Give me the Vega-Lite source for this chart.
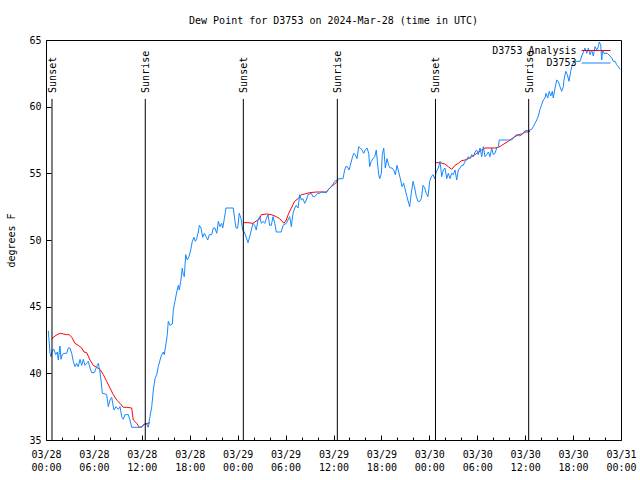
{
"$schema": "https://vega.github.io/schema/vega-lite/v6.json",
"width": 575, "height": 400,
"autosize": "none",
"padding": {"left": 46, "top": 40, "right": 19, "bottom": 40},
"background": "white",
"title": {"text": "Dew Point for D3753 on 2024-Mar-28 (time in UTC)", "font": "DejaVu Sans Mono", "fontSize": 10, "fontWeight": "normal", "color": "black", "offset": 9, "anchor": "middle"},
"config": {
  "view": {"stroke": "black", "strokeWidth": 1},
  "axis": {"domain": false, "grid": false, "labelFont": "DejaVu Sans Mono", "labelFontSize": 10, "labelColor": "black", "tickColor": "black", "tickWidth": 1, "titleFont": "DejaVu Sans Mono", "titleFontSize": 10, "titleFontWeight": "normal", "titleColor": "black"}
},
"resolve": {"axis": {"x": "independent", "y": "independent"}},
"layer": [
{
  "data": {"values": [
{"h":0.71,"dp":42.6,"seg":1},{"h":1.13,"dp":42.8,"seg":1},{"h":1.54,"dp":42.95,"seg":1},{"h":1.84,"dp":43.0,"seg":1},{"h":2.17,"dp":42.95,"seg":1},{"h":2.59,"dp":42.9,"seg":1},{"h":2.92,"dp":42.9,"seg":1},{"h":3.22,"dp":42.7,"seg":1},{"h":3.63,"dp":42.25,"seg":1},{"h":4.04,"dp":42.1,"seg":1},{"h":4.47,"dp":41.9,"seg":1},{"h":4.76,"dp":41.6,"seg":1},{"h":5.1,"dp":41.55,"seg":1},{"h":5.51,"dp":41.0,"seg":1},{"h":5.92,"dp":40.6,"seg":1},{"h":6.35,"dp":40.45,"seg":1},{"h":6.76,"dp":40.3,"seg":1},{"h":7.18,"dp":39.9,"seg":1},{"h":7.6,"dp":39.4,"seg":1},{"h":8.01,"dp":38.9,"seg":1},{"h":8.43,"dp":38.4,"seg":1},{"h":8.85,"dp":38.0,"seg":1},{"h":9.27,"dp":37.75,"seg":1},{"h":9.68,"dp":37.45,"seg":1},{"h":10.11,"dp":37.45,"seg":1},{"h":10.73,"dp":37.4,"seg":1},{"h":10.93,"dp":36.5,"seg":1},{"h":11.36,"dp":36.25,"seg":1},{"h":11.68,"dp":35.95,"seg":1},{"h":11.98,"dp":36.0,"seg":1},{"h":12.4,"dp":36.2,"seg":1},{"h":13.02,"dp":36.3,"seg":1},
{"h":24.71,"dp":51.3,"seg":2},{"h":25.29,"dp":51.3,"seg":2},{"h":25.92,"dp":51.25,"seg":2},{"h":26.76,"dp":51.6,"seg":2},{"h":26.96,"dp":51.9,"seg":2},{"h":27.59,"dp":51.95,"seg":2},{"h":28.21,"dp":51.9,"seg":2},{"h":28.84,"dp":51.75,"seg":2},{"h":29.26,"dp":51.6,"seg":2},{"h":29.8,"dp":51.25,"seg":2},{"h":30.09,"dp":51.5,"seg":2},{"h":30.39,"dp":52.0,"seg":2},{"h":30.72,"dp":52.4,"seg":2},{"h":31.14,"dp":52.9,"seg":2},{"h":31.56,"dp":53.1,"seg":2},{"h":31.97,"dp":53.4,"seg":2},{"h":32.39,"dp":53.45,"seg":2},{"h":33.02,"dp":53.55,"seg":2},{"h":33.85,"dp":53.6,"seg":2},{"h":35.1,"dp":53.6,"seg":2},{"h":35.53,"dp":53.9,"seg":2},{"h":35.94,"dp":54.1,"seg":2},{"h":36.35,"dp":54.3,"seg":2},{"h":36.56,"dp":54.5,"seg":2},
{"h":48.75,"dp":55.8,"seg":3},{"h":49.34,"dp":55.8,"seg":3},{"h":49.96,"dp":55.7,"seg":3},{"h":50.38,"dp":55.5,"seg":3},{"h":50.8,"dp":55.3,"seg":3},{"h":51.21,"dp":55.6,"seg":3},{"h":51.63,"dp":55.75,"seg":3},{"h":52.05,"dp":55.95,"seg":3},{"h":52.47,"dp":56.0,"seg":3},{"h":52.88,"dp":56.1,"seg":3},{"h":53.31,"dp":56.25,"seg":3},{"h":53.93,"dp":56.5,"seg":3},{"h":54.56,"dp":56.75,"seg":3},{"h":54.97,"dp":56.9,"seg":3},{"h":56.22,"dp":56.9,"seg":3},{"h":56.64,"dp":56.95,"seg":3},{"h":57.06,"dp":57.1,"seg":3},{"h":57.48,"dp":57.25,"seg":3},{"h":57.89,"dp":57.4,"seg":3},{"h":58.31,"dp":57.6,"seg":3},{"h":58.73,"dp":57.75,"seg":3},{"h":59.14,"dp":57.9,"seg":3},{"h":59.56,"dp":57.95,"seg":3},{"h":59.98,"dp":58.1,"seg":3},{"h":60.39,"dp":58.1,"seg":3},{"h":60.6,"dp":58.15,"seg":3}
  ]},
  "mark": {"type": "line", "strokeWidth": 1, "clip": true},
  "encoding": {
    "x": {"field": "h", "type": "quantitative", "scale": {"domain": [0, 72], "nice": false, "zero": false},
      "axis": {"orient": "bottom", "title": null, "values": [0,2,4,6,8,10,12,14,16,18,20,22,24,26,28,30,32,34,36,38,40,42,44,46,48,50,52,54,56,58,60,62,64,66,68,70,72],
        "tickSize": {"condition": {"test": "datum.value % 6 === 0", "value": -5}, "value": -3},
        "labelExpr": "datum.value % 6 === 0 ? ['03/' + (28 + floor(datum.value / 24)), (datum.value % 24 < 10 ? '0' : '') + (datum.value % 24) + ':00'] : ''",
        "labelPadding": 14, "labelLineHeight": 13, "labelFlush": false, "labelOverlap": false, "labelBaseline": "top"}},
    "y": {"field": "dp", "type": "quantitative", "scale": {"domain": [35, 65], "nice": false, "zero": false},
      "axis": {"orient": "left", "title": "degrees F", "values": [35,40,45,50,55,60,65], "tickSize": -5, "labelPadding": 10, "titlePadding": 12}},
    "color": {"datum": "D3753 Analysis", "type": "nominal", "scale": {"domain": ["D3753 Analysis", "D3753"], "range": ["#ff0000", "#1588ff"]},
      "legend": {"orient": "none", "legendX": 544.6, "legendY": 5, "title": null, "symbolType": "M-3,0H3", "symbolSize": 93, "symbolStrokeWidth": 1, "symbolFillColor": "transparent", "labelAlign": "right", "labelOffset": -25, "labelFont": "DejaVu Sans Mono", "labelFontSize": 10, "labelColor": "black", "padding": 0, "rowPadding": 1.5, "labelLimit": 300}},
    "detail": {"field": "seg", "type": "nominal"}
  }
},
{
  "data": {"values": [
{"h":0.29,"dp":43.2},{"h":0.38,"dp":42.5},{"h":0.5,"dp":41.5},{"h":0.63,"dp":41.25},{"h":0.79,"dp":41.75},{"h":1.0,"dp":41.8},{"h":1.21,"dp":41.4},{"h":1.42,"dp":41.6},{"h":1.54,"dp":41.0},{"h":1.75,"dp":42.05},{"h":1.88,"dp":41.05},{"h":2.04,"dp":41.4},{"h":2.25,"dp":41.5},{"h":2.59,"dp":41.5},{"h":2.79,"dp":41.9},{"h":3.01,"dp":41.9},{"h":3.22,"dp":41.5},{"h":3.42,"dp":40.9},{"h":3.63,"dp":40.5},{"h":3.84,"dp":40.75},{"h":4.04,"dp":40.5},{"h":4.26,"dp":41.05},{"h":4.47,"dp":40.6},{"h":4.67,"dp":41.05},{"h":4.88,"dp":40.6},{"h":5.1,"dp":40.75},{"h":5.3,"dp":40.9},{"h":5.51,"dp":40.4},{"h":5.72,"dp":40.05},{"h":6.05,"dp":40.05},{"h":6.35,"dp":40.5},{"h":6.55,"dp":40.75},{"h":6.76,"dp":40.1},{"h":6.89,"dp":39.5},{"h":7.05,"dp":38.5},{"h":7.39,"dp":38.45},{"h":7.6,"dp":38.4},{"h":7.8,"dp":37.5},{"h":8.01,"dp":38.0},{"h":8.23,"dp":38.2},{"h":8.35,"dp":37.75},{"h":8.51,"dp":37.25},{"h":8.77,"dp":37.5},{"h":9.05,"dp":37.3},{"h":9.27,"dp":37.5},{"h":9.48,"dp":36.75},{"h":9.68,"dp":36.55},{"h":9.89,"dp":36.9},{"h":10.31,"dp":36.9},{"h":10.52,"dp":36.5},{"h":10.73,"dp":35.95},{"h":11.98,"dp":35.95},{"h":12.27,"dp":36.2},{"h":12.61,"dp":36.2},{"h":12.81,"dp":35.95},{"h":13.02,"dp":36.75},{"h":13.24,"dp":37.5},{"h":13.44,"dp":38.75},{"h":13.65,"dp":39.6},{"h":13.86,"dp":39.9},{"h":14.06,"dp":40.5},{"h":14.28,"dp":41.0},{"h":14.49,"dp":41.4},{"h":14.69,"dp":41.6},{"h":14.81,"dp":41.4},{"h":15.03,"dp":42.25},{"h":15.19,"dp":42.9},{"h":15.31,"dp":43.9},{"h":15.53,"dp":43.6},{"h":15.82,"dp":43.7},{"h":15.94,"dp":44.75},{"h":16.15,"dp":45.4},{"h":16.37,"dp":46.1},{"h":16.57,"dp":46.6},{"h":16.69,"dp":46.25},{"h":16.87,"dp":46.9},{"h":17.07,"dp":47.9},{"h":17.19,"dp":47.4},{"h":17.32,"dp":47.25},{"h":17.49,"dp":48.9},{"h":17.69,"dp":48.5},{"h":17.91,"dp":48.75},{"h":18.12,"dp":49.25},{"h":18.32,"dp":49.9},{"h":18.53,"dp":50.2},{"h":18.7,"dp":49.9},{"h":18.87,"dp":50.1},{"h":19.07,"dp":50.6},{"h":19.2,"dp":51.1},{"h":19.41,"dp":50.9},{"h":19.62,"dp":50.2},{"h":19.82,"dp":50.5},{"h":20.04,"dp":50.25},{"h":20.25,"dp":50.0},{"h":20.45,"dp":50.4},{"h":20.75,"dp":50.4},{"h":20.95,"dp":50.9},{"h":21.16,"dp":50.9},{"h":21.38,"dp":50.5},{"h":21.58,"dp":51.4},{"h":21.79,"dp":51.0},{"h":22.0,"dp":51.25},{"h":22.13,"dp":50.9},{"h":22.33,"dp":51.6},{"h":22.54,"dp":52.4},{"h":23.45,"dp":52.4},{"h":23.67,"dp":51.4},{"h":23.79,"dp":50.9},{"h":24.0,"dp":50.9},{"h":24.2,"dp":52.0},{"h":24.42,"dp":51.6},{"h":24.63,"dp":50.75},{"h":24.83,"dp":50.6},{"h":25.04,"dp":50.25},{"h":25.29,"dp":49.8},{"h":25.51,"dp":50.25},{"h":25.71,"dp":50.75},{"h":25.92,"dp":51.25},{"h":26.13,"dp":51.1},{"h":26.33,"dp":50.75},{"h":26.55,"dp":51.5},{"h":26.76,"dp":51.75},{"h":26.96,"dp":51.25},{"h":27.17,"dp":51.4},{"h":27.39,"dp":51.25},{"h":27.59,"dp":51.6},{"h":27.8,"dp":51.9},{"h":28.01,"dp":51.1},{"h":28.21,"dp":51.1},{"h":28.43,"dp":51.75},{"h":28.64,"dp":51.25},{"h":28.84,"dp":50.6},{"h":29.46,"dp":50.6},{"h":29.68,"dp":51.1},{"h":30.09,"dp":51.25},{"h":30.3,"dp":51.5},{"h":30.52,"dp":51.75},{"h":30.72,"dp":51.0},{"h":30.93,"dp":52.0},{"h":31.14,"dp":52.4},{"h":31.34,"dp":52.6},{"h":31.56,"dp":52.4},{"h":31.77,"dp":53.4},{"h":31.97,"dp":53.0},{"h":32.18,"dp":53.1},{"h":32.39,"dp":52.75},{"h":32.6,"dp":53.0},{"h":32.81,"dp":53.4},{"h":33.22,"dp":53.5},{"h":33.43,"dp":53.25},{"h":33.65,"dp":53.25},{"h":33.85,"dp":53.4},{"h":34.06,"dp":53.5},{"h":34.27,"dp":53.5},{"h":34.47,"dp":53.6},{"h":35.1,"dp":53.55},{"h":35.31,"dp":53.75},{"h":35.53,"dp":53.9},{"h":35.73,"dp":54.0},{"h":35.94,"dp":54.2},{"h":36.15,"dp":54.4},{"h":36.44,"dp":54.5},{"h":36.69,"dp":54.6},{"h":37.19,"dp":54.6},{"h":37.4,"dp":55.25},{"h":37.53,"dp":55.5},{"h":37.73,"dp":55.5},{"h":37.94,"dp":55.25},{"h":38.1,"dp":55.6},{"h":38.32,"dp":56.1},{"h":38.53,"dp":56.5},{"h":38.73,"dp":56.4},{"h":38.94,"dp":56.1},{"h":39.16,"dp":57.0},{"h":39.36,"dp":56.9},{"h":39.57,"dp":56.75},{"h":39.78,"dp":56.5},{"h":39.98,"dp":56.75},{"h":40.2,"dp":56.9},{"h":40.41,"dp":56.5},{"h":40.53,"dp":55.5},{"h":40.73,"dp":55.9},{"h":40.95,"dp":56.1},{"h":41.16,"dp":56.25},{"h":41.36,"dp":56.75},{"h":41.49,"dp":55.9},{"h":41.66,"dp":54.9},{"h":41.79,"dp":54.6},{"h":41.99,"dp":55.0},{"h":42.11,"dp":56.4},{"h":42.29,"dp":56.9},{"h":42.49,"dp":55.4},{"h":42.7,"dp":56.1},{"h":42.91,"dp":55.6},{"h":43.11,"dp":55.4},{"h":43.33,"dp":55.4},{"h":43.54,"dp":55.25},{"h":43.74,"dp":54.9},{"h":43.95,"dp":55.6},{"h":44.16,"dp":55.1},{"h":44.37,"dp":54.6},{"h":44.58,"dp":54.0},{"h":44.79,"dp":54.25},{"h":44.99,"dp":53.75},{"h":45.2,"dp":53.25},{"h":45.42,"dp":52.75},{"h":45.54,"dp":52.5},{"h":45.74,"dp":53.5},{"h":45.96,"dp":54.4},{"h":46.17,"dp":53.9},{"h":46.37,"dp":53.25},{"h":46.58,"dp":52.9},{"h":46.8,"dp":52.9},{"h":47.0,"dp":53.1},{"h":47.21,"dp":54.1},{"h":47.42,"dp":53.9},{"h":47.62,"dp":53.5},{"h":47.83,"dp":53.25},{"h":48.05,"dp":54.4},{"h":48.25,"dp":54.75},{"h":48.46,"dp":54.9},{"h":48.67,"dp":54.6},{"h":48.87,"dp":55.1},{"h":49.12,"dp":55.4},{"h":49.34,"dp":55.9},{"h":49.55,"dp":54.75},{"h":49.75,"dp":55.25},{"h":49.96,"dp":55.4},{"h":50.18,"dp":54.6},{"h":50.38,"dp":55.0},{"h":50.59,"dp":54.6},{"h":50.8,"dp":55.0},{"h":51.0,"dp":54.9},{"h":51.21,"dp":55.25},{"h":51.43,"dp":54.5},{"h":51.63,"dp":55.25},{"h":51.84,"dp":55.4},{"h":52.05,"dp":55.6},{"h":52.25,"dp":55.6},{"h":52.47,"dp":55.9},{"h":52.68,"dp":56.0},{"h":52.88,"dp":56.25},{"h":53.09,"dp":56.1},{"h":53.31,"dp":56.4},{"h":53.51,"dp":56.25},{"h":53.72,"dp":56.6},{"h":53.93,"dp":56.75},{"h":54.13,"dp":56.4},{"h":54.35,"dp":56.9},{"h":54.56,"dp":56.25},{"h":54.76,"dp":57.0},{"h":54.97,"dp":56.25},{"h":55.18,"dp":56.4},{"h":55.39,"dp":56.6},{"h":55.6,"dp":56.25},{"h":55.81,"dp":56.9},{"h":56.01,"dp":56.4},{"h":56.22,"dp":56.5},{"h":56.44,"dp":56.9},{"h":56.64,"dp":57.0},{"h":56.76,"dp":57.5},{"h":58.31,"dp":57.5},{"h":58.51,"dp":57.65},{"h":58.73,"dp":57.8},{"h":58.94,"dp":57.9},{"h":59.35,"dp":57.8},{"h":59.77,"dp":58.0},{"h":59.98,"dp":58.2},{"h":60.39,"dp":58.2},{"h":60.82,"dp":58.3},{"h":61.02,"dp":58.5},{"h":61.23,"dp":58.75},{"h":61.45,"dp":59.0},{"h":61.65,"dp":59.3},{"h":61.86,"dp":59.8},{"h":62.07,"dp":60.15},{"h":62.27,"dp":60.5},{"h":62.48,"dp":60.65},{"h":62.61,"dp":61.0},{"h":62.82,"dp":60.65},{"h":63.02,"dp":61.15},{"h":63.2,"dp":60.8},{"h":63.4,"dp":61.15},{"h":63.52,"dp":60.65},{"h":63.74,"dp":61.4},{"h":63.95,"dp":62.0},{"h":64.15,"dp":61.9},{"h":64.36,"dp":61.5},{"h":64.57,"dp":61.15},{"h":64.78,"dp":61.5},{"h":64.86,"dp":62.0},{"h":65.08,"dp":62.65},{"h":65.28,"dp":62.4},{"h":65.49,"dp":61.9},{"h":65.7,"dp":62.65},{"h":65.83,"dp":63.0},{"h":66.03,"dp":63.3},{"h":66.46,"dp":63.4},{"h":66.87,"dp":63.4},{"h":67.08,"dp":63.8},{"h":67.49,"dp":64.4},{"h":67.71,"dp":64.0},{"h":67.91,"dp":64.4},{"h":68.12,"dp":63.9},{"h":68.33,"dp":64.25},{"h":68.53,"dp":63.8},{"h":68.75,"dp":64.5},{"h":68.96,"dp":64.25},{"h":69.16,"dp":64.5},{"h":69.28,"dp":64.85},{"h":69.46,"dp":64.65},{"h":69.58,"dp":63.5},{"h":69.71,"dp":64.25},{"h":69.87,"dp":64.0},{"h":70.29,"dp":64.0},{"h":70.63,"dp":63.8},{"h":70.84,"dp":63.65},{"h":71.04,"dp":63.4},{"h":71.25,"dp":63.4},{"h":71.46,"dp":63.15},{"h":71.66,"dp":63.0},{"h":71.88,"dp":62.8}
  ]},
  "mark": {"type": "line", "strokeWidth": 1, "clip": true},
  "encoding": {
    "x": {"field": "h", "type": "quantitative", "axis": null},
    "y": {"field": "dp", "type": "quantitative", "axis": null},
    "color": {"datum": "D3753", "type": "nominal"}
  }
},
{
  "data": {"values": [
    {"h": 0.75, "event": "Sunset"}, {"h": 12.43, "event": "Sunrise"},
    {"h": 24.71, "event": "Sunset"}, {"h": 36.48, "event": "Sunrise"},
    {"h": 48.77, "event": "Sunset"}, {"h": 60.44, "event": "Sunrise"}
  ]},
  "layer": [
    {
      "mark": {"type": "rule", "color": "black", "strokeWidth": 1},
      "encoding": {
        "x": {"field": "h", "type": "quantitative",
          "axis": {"orient": "top", "title": null, "labels": false, "values": [0,2,4,6,8,10,12,14,16,18,20,22,24,26,28,30,32,34,36,38,40,42,44,46,48,50,52,54,56,58,60,62,64,66,68,70,72],
            "tickSize": {"condition": {"test": "datum.value % 6 === 0", "value": -5}, "value": -3}}},
        "y": {"datum": 60.58, "type": "quantitative",
          "axis": {"orient": "right", "title": null, "labels": false, "values": [35,40,45,50,55,60,65], "tickSize": -5}},
        "y2": {"datum": 35}
      }
    },
    {
      "mark": {"type": "text", "angle": 270, "align": "left", "baseline": "middle", "font": "DejaVu Sans Mono", "fontSize": 10, "color": "black", "dy": 1},
      "encoding": {
        "x": {"field": "h", "type": "quantitative", "axis": null},
        "y": {"datum": 61.03, "type": "quantitative", "axis": null},
        "text": {"field": "event"}
      }
    }
  ]
}
]
}
